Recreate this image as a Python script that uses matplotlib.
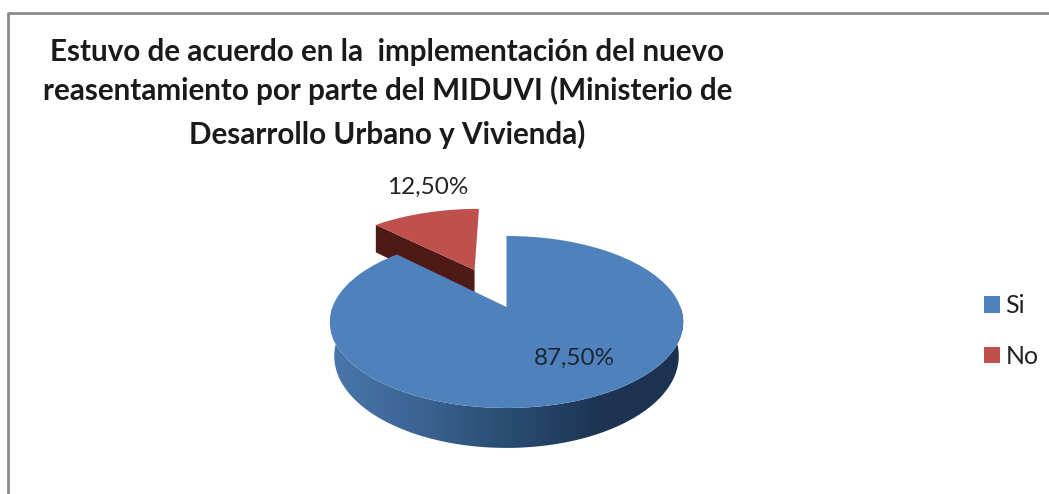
#!/usr/bin/python3

import numpy as np

import matplotlib
matplotlib.use('Agg')
from matplotlib import pyplot as plt
from matplotlib import colors as mcolors
from matplotlib.patches import Patch, Polygon
from matplotlib.transforms import Transform

title_lines = ['Estuvo de acuerdo en la  implementación del nuevo',
               'reasentamiento por parte del MIDUVI (Ministerio de',
               'Desarrollo Urbano y Vivienda)']
categories = ['Si', 'No']
values = [87.5, 12.5]
explode = [0, 0.52]

# Projection of the flat pie onto the image, fitted from the picture
X0, Y0, RX, RY, TILT, DEPTH = 506.5, 307, 174, 83.4, 0.174, 33

def project(u, v, z=0):
    s = 1 + TILT * v
    return X0 + RX * u / s, Y0 + (-RY * v + DEPTH * z) / s

class PieProjection(Transform):
    input_dims = 2
    output_dims = 2
    def transform_non_affine(self, values):
        x, y = project(values[:, 0], values[:, 1])
        return np.column_stack([x, y])

def main():
    plt.rcParams['font.family'] = ['Lato', 'DejaVu Sans']
    fig = plt.figure(figsize=(10.49, 4.94), dpi=100)
    ax = fig.add_axes([0, 0, 1, 1])

    colors = ['#4f81bd', '#c0504d']
    wedges, _ = ax.pie(values, explode=explode, colors=colors, startangle=90,
                       counterclock=False, radius=1)
    ax.set_aspect('auto')
    ax.set_xlim(0, 1049)
    ax.set_ylim(494, 0)
    for wedge in wedges:
        wedge.set_transform(PieProjection() + ax.transData)
        wedge.set_linewidth(0)
        wedge.set_zorder(4)
    wedges[1].set_zorder(2)

    # Cut face of the pulled out slice
    red = wedges[1]
    cu, cv = red.center
    edge_u = cu + np.cos(np.radians(red.theta2)) * red.r
    edge_v = cv + np.sin(np.radians(red.theta2)) * red.r
    face = [project(edge_u, edge_v), project(cu, cv),
            project(cu, cv, 1), project(edge_u, edge_v, 1)]
    ax.add_patch(Polygon(face, closed=True, facecolor='#4f1a16', edgecolor='none', zorder=1))

    # Side wall of the large slice, shaded from left to right
    t = np.radians(np.linspace(180, 360, 181))
    top = np.column_stack(project(np.cos(t), np.sin(t)))
    bottom = np.column_stack(project(0.975 * np.cos(t), np.sin(t), 1))
    wall = Polygon(np.vstack([top, bottom[::-1]]), closed=True, facecolor='none',
                   edgecolor='none', zorder=3)
    ax.add_patch(wall)
    shade = mcolors.LinearSegmentedColormap.from_list(
        'wall', ['#4a76ab', '#3a6492', '#2a4c72', '#1d3553', '#1b3350'])
    img = ax.imshow(np.linspace(0, 1, 256)[None, :], cmap=shade, aspect='auto',
                    extent=[331, 685, 460, 310], zorder=3)
    img.set_clip_path(wall)
    ax.set_xlim(0, 1049)
    ax.set_ylim(494, 0)

    # Value labels
    labels = [('%.2f%%' % v).replace('.', ',') for v in values]
    ax.text(574, 358, labels[0], fontsize=17.5, color='#1c2733', ha='center', va='center', zorder=5)
    ax.text(428, 187, labels[1], fontsize=17.5, color='#222222', ha='center', va='center', zorder=5)

    # Title
    for line, y in zip(title_lines, [52, 90, 134]):
        ax.text(387.5, y, line, fontsize=21.3, fontweight='bold', color='#1a1a1a',
                ha='center', va='center', zorder=5)

    # Legend
    handles = [Patch(facecolor=c, edgecolor='none') for c in colors]
    fig.legend(handles, categories, loc='center left', bbox_to_anchor=(0.917, 0.33),
               frameon=False, fontsize=18, handlelength=0.64, handleheight=0.64,
               handletextpad=0.2, labelspacing=1.1, labelcolor='#222222')

    # Chart frame
    ax.plot([8, 8, 1049], [494, 13, 13], color='#8c8c8c', linewidth=2, zorder=1)

    fig.savefig('out.png', dpi=100)
    plt.close()

if __name__ == '__main__': main()
